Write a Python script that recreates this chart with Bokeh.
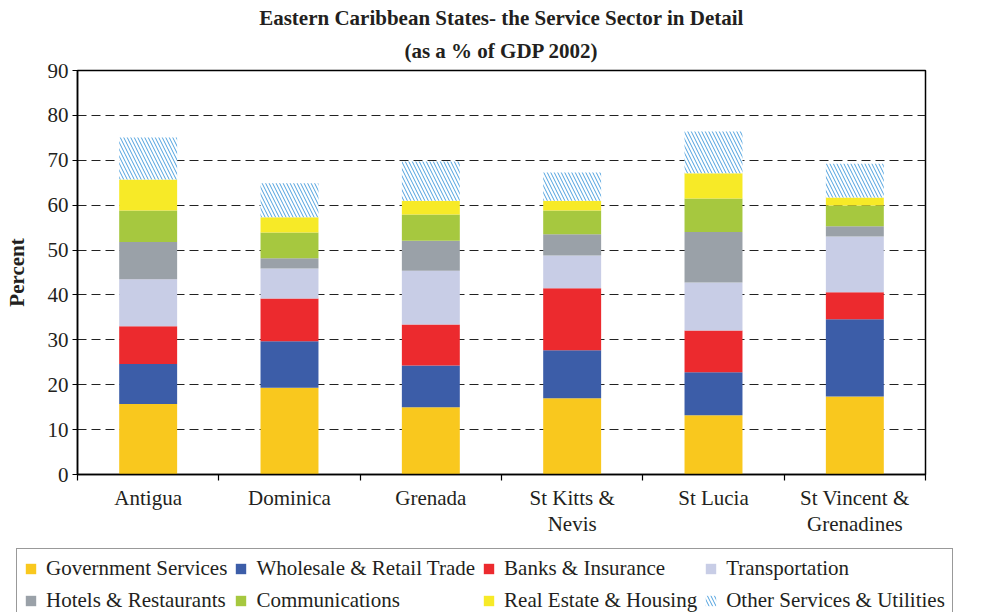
from bokeh.plotting import figure
from bokeh.models import ColumnDataSource, Range1d, FixedTicker, Legend, LegendItem, Title
from bokeh.layouts import column
from bokeh.embed import file_html
from bokeh.resources import INLINE

countries = ["Antigua", "Dominica", "Grenada", "St Kitts &\nNevis", "St Lucia", "St Vincent &\nGrenadines"]
series_names = ["Government Services", "Wholesale & Retail Trade", "Banks & Insurance", "Transportation",
                "Hotels & Restaurants", "Communications", "Real Estate & Housing", "Other Services & Utilities"]
gov = [15.7, 19.3, 15.0, 17.0, 13.2, 17.4]
wholesale = [8.9, 10.4, 9.3, 10.7, 9.6, 17.2]
banks = [8.4, 9.5, 9.1, 13.8, 9.3, 6.0]
transport = [10.5, 6.7, 12.0, 7.3, 10.7, 12.4]
hotels = [8.3, 2.3, 6.7, 4.7, 11.2, 2.3]
comm = [7.0, 5.7, 5.8, 5.3, 7.5, 4.6]
realestate = [6.9, 3.4, 3.1, 2.2, 5.6, 1.8]
other = [9.4, 7.6, 8.7, 6.3, 9.3, 7.5]
y_ticks = [0, 10, 20, 30, 40, 50, 60, 70, 80, 90]

colors = ["#F9C81E", "#3C5DA8", "#EC2A2E", "#C8CDE6", "#9AA1A8", "#A6C83F", "#F7EA27", "white"]
hatches = [" "] * 7 + ["\\"]

keys = ["gov", "wholesale", "banks", "transport", "hotels", "comm", "realestate", "other"]
xs = list(range(len(countries)))
source = ColumnDataSource(dict(x=xs, gov=gov, wholesale=wholesale, banks=banks, transport=transport,
                               hotels=hotels, comm=comm, realestate=realestate, other=other))

SERIF = "Liberation Serif"
TXT = "#231f20"
FS = "21px"
bar_style = dict(width=0.41, source=source, fill_color=colors, line_color=None,
                 hatch_pattern=hatches, hatch_color="#2E8FD8", hatch_scale=7,
                 hatch_weight=1.0, hatch_alpha=0.85)

p = figure(width=984, height=547, output_backend="svg", toolbar_location=None,
           x_range=Range1d(-0.5, len(countries) - 0.5), y_range=Range1d(0, 90),
           min_border_left=77, min_border_right=59, min_border_bottom=73, min_border_top=70)
p.frame_align = False

p.vbar_stack(keys, x="x", **bar_style)

p.title.text = "Eastern Caribbean States- the Service Sector in Detail"
p.title.align = "center"
p.title.text_font = SERIF
p.title.text_font_size = FS
p.title.text_font_style = "bold"
p.title.text_color = TXT
p.title.standoff = 0
sub_title = Title(text="(as a % of GDP 2002)", align="center", standoff=15,
                  text_font=SERIF, text_font_size=FS, text_font_style="bold", text_color=TXT)
p.add_layout(sub_title, "above")

# y axis
p.yaxis.ticker = FixedTicker(ticks=y_ticks)
p.yaxis.major_tick_out = 5
p.yaxis.major_tick_in = 0
p.yaxis.minor_tick_line_color = None
p.yaxis.axis_line_color = "black"
p.yaxis.axis_line_width = 1.5
p.yaxis.major_label_text_font = SERIF
p.yaxis.major_label_text_font_size = FS
p.yaxis.major_label_text_color = TXT
p.yaxis.major_label_standoff = 4
p.yaxis.axis_label = "Percent"
p.yaxis.axis_label_text_font = SERIF
p.yaxis.axis_label_text_font_size = FS
p.yaxis.axis_label_text_font_style = "bold"
p.yaxis.axis_label_text_color = TXT
p.yaxis.axis_label_standoff = 16

# x axis
p.xaxis.ticker = FixedTicker(ticks=xs, minor_ticks=[i - 0.5 for i in xs] + [len(xs) - 0.5])
p.xaxis.major_label_overrides = {i: c for i, c in enumerate(countries)}
p.xaxis.major_tick_line_color = None
p.xaxis.minor_tick_out = 6
p.xaxis.minor_tick_in = 0
p.xaxis.minor_tick_line_color = "black"
p.xaxis.minor_tick_line_width = 1.2
p.xaxis.axis_line_color = "black"
p.xaxis.axis_line_width = 1.5
p.xaxis.major_label_text_font = SERIF
p.xaxis.major_label_text_font_size = FS
p.xaxis.major_label_text_color = TXT
p.xaxis.major_label_standoff = 5
p.xaxis.major_label_text_line_height = 1.1

p.xgrid.grid_line_color = None
p.ygrid.ticker = FixedTicker(ticks=y_ticks)
p.ygrid.grid_line_color = "#222222"
p.ygrid.grid_line_dash = "9 5"
p.ygrid.grid_line_width = 1.2

p.outline_line_color = "black"
p.outline_line_width = 1.5

# legend panel (separate strip below the chart)
lg = figure(width=984, height=65, output_backend="svg", toolbar_location=None,
            x_range=Range1d(100, 101), y_range=Range1d(0, 90),
            x_axis_location=None, y_axis_location=None,
            min_border_left=16, min_border_top=1, min_border_right=0, min_border_bottom=0)
lg.frame_align = False
lg.grid.grid_line_color = None
lg.outline_line_color = None
lg_renderers = lg.vbar_stack(keys, x="x", **bar_style)

items = [LegendItem(label=n, renderers=[r]) for n, r in zip(series_names, lg_renderers)]
legend = Legend(items=items, orientation="horizontal", ncols=4, location="top_left",
                label_text_font=SERIF, label_text_font_size=FS, label_text_color=TXT,
                glyph_width=13, glyph_height=13, label_standoff=9, label_height=18,
                padding=7, spacing=7, margin=0,
                border_line_color="#333333", border_line_width=1.5, background_fill_alpha=1)
lg.add_layout(legend)

layout = column(p, lg, spacing=0)
open("out.html", "w").write(file_html(layout, INLINE))
